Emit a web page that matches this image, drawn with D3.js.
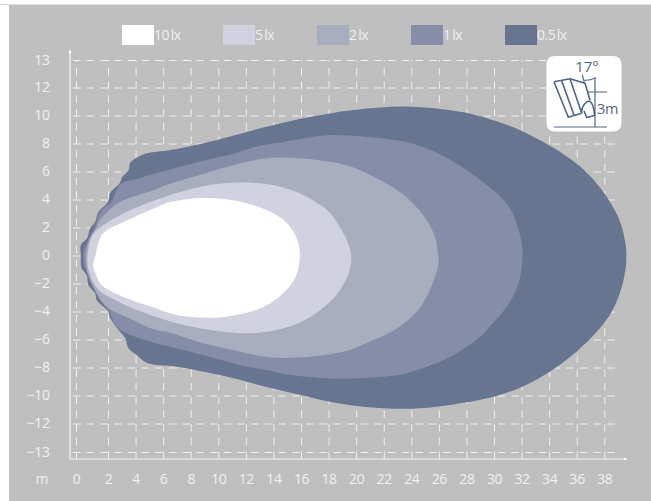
<!DOCTYPE html>
<html>
<head>
<meta charset="utf-8">
<script src="https://cdn.jsdelivr.net/npm/d3@7"></script>
<style>
html,body{margin:0;padding:0;background:#fff}
svg{display:block}
text{font-family:"Open Sans",sans-serif}
</style>
</head>
<body>
<svg id="c" width="651" height="501"></svg>
<script>
const xTicks = [0,2,4,6,8,10,12,14,16,18,20,22,24,26,28,30,32,34,36,38];
const yTicks = [13,12,10,8,6,4,2,0,-2,-4,-6,-8,-10,-12,-13];
const levels = ["0.5 lx","1 lx","2 lx","5 lx","10 lx"];
const legendOrder = ["10 lx","5 lx","2 lx","1 lx","0.5 lx"];
const colors = ["#687591","#868da8","#a8aebe","#d0d3df","#ffffff"];

const lx05 = [[.3,.05],[.3,.75],[.7,1.25],[.88,1.95],[1.2,2.4],[1.4,3.1],[2.02,3.85],[2.15,4.45],[2.87,5.2],[3,5.55],[3.5,6.1],[3.6,6.6],[4.2,7.05],[4.8,7.3],[5.4,7.4],[6.65,7.55],[8.65,7.95],[11.05,8.55],[13.5,9.2],[15.9,9.75],[18.1,10.15],[19.75,10.4],[23.4,10.65],[25.85,10.5],[27.4,10.28],[28.2,10.15],[29,9.95],[30.45,9.5],[31.9,8.95],[33.3,8.25],[34.8,7.4],[36.25,6.35],[37.45,5.15],[38.4,3.85],[39.15,2.4],[39.55,.75],[39.6,-.1],[39.55,-.9],[39.25,-2.3],[38.55,-4],[37.45,-5.45],[36,-6.85],[34.05,-8.3],[32.1,-9.35],[30.45,-9.95],[29,-10.3],[25.85,-10.8],[23.4,-10.95],[20.5,-10.8],[18.1,-10.45],[15.9,-9.95],[13.5,-9.4],[11.05,-8.75],[8.65,-8.25],[6.7,-7.9],[5.4,-7.8],[4.7,-7.6],[4.08,-7.1],[3.47,-6.6],[3.25,-5.9],[2.75,-5.3],[2.15,-4.45],[2.02,-4],[1.3,-3.2],[1.2,-2.7],[.77,-2.1],[.67,-1.4],[.35,-.9]];
const lx1 = [[.45,.05],[.77,1.1],[1.2,2.05],[1.5,3.1],[2.27,3.85],[2.87,5.05],[4.2,5.5],[5.4,5.85],[6.3,6.1],[8.65,6.7],[11.05,7.25],[12.65,7.75],[14.7,8.1],[18.1,8.6],[20.5,8.5],[23.65,8.1],[25.35,7.55],[26.8,6.85],[29,5.4],[30.2,4.45],[31.15,3.4],[31.75,1.95],[32.05,.55],[32.05,-.45],[31.75,-2.1],[31,-3.55],[29.9,-4.85],[29,-5.8],[26.8,-7.25],[24.85,-8.05],[22.95,-8.55],[20.5,-8.75],[18.6,-8.8],[15.4,-8.55],[12.8,-8.05],[12.1,-7.95],[9.4,-7.25],[6.7,-6.55],[5.4,-6.25],[2.75,-5.2],[2.02,-3.9],[1.4,-3.05],[1.2,-2.45],[.88,-1.6],[.56,-.9]];
const lx2 = [[.62,.05],[.88,1.25],[1.3,2.05],[1.4,2.4],[2.75,3.75],[5.4,4.7],[6.3,5.05],[8.65,5.75],[11.05,6.45],[13.5,6.95],[15.9,6.95],[18.1,6.7],[19.3,6.45],[20.5,6],[21.7,5.4],[22.95,4.7],[24.1,3.75],[25.1,2.55],[25.7,1.35],[25.95,.05],[25.95,-.7],[25.5,-2.1],[24.75,-3.55],[23.9,-4.5],[22.55,-5.45],[21,-6.15],[19.55,-6.75],[18.1,-7.05],[15.4,-7.3],[13.5,-7.25],[11.05,-6.75],[8.65,-6.2],[6.3,-5.45],[5.4,-5.3],[3.47,-4.45],[2.02,-3.75],[1.4,-2.9],[.77,-1.4]];
const lx5 = [[.73,.05],[.98,1.35],[1.3,1.8],[2.72,2.8],[5.4,3.95],[8.65,4.9],[11.05,5.2],[13.5,5.1],[15.9,4.45],[17.4,3.6],[18.1,3.05],[18.95,1.8],[19.5,.65],[19.65,-.3],[19.45,-1.3],[19,-2.2],[18.45,-2.95],[17.4,-3.9],[15.9,-4.8],[13.5,-5.45],[11.55,-5.55],[8.65,-5.2],[5.4,-4.35],[2.75,-3.3],[1.4,-2.45],[.88,-1.4],[.73,-.7]];
const lx10 = [[1.23,.05],[1.4,.9],[1.7,1.6],[3.47,2.55],[5.4,3.4],[6.3,3.75],[8.65,4.1],[11.05,3.95],[13.5,3.25],[15,2.3],[15.8,.9],[15.9,-.3],[15.6,-1.55],[14.7,-2.7],[13.25,-3.7],[11.05,-4.3],[9.2,-4.45],[7,-4.25],[5.4,-3.75],[2.75,-2.8],[1.6,-2.1],[1.3,-1.5],[1.08,-.7]];
const contours = [lx05,lx1,lx2,lx5,lx10];

const svg = d3.select("#c");
const x = d3.scaleLinear().domain([0,2,38]).range([76,108,604.3]);
const y = d3.scaleLinear().domain([-13,-12,12,13]).range([452,423.5,87.5,60]);
const color = d3.scaleOrdinal().domain(levels).range(colors);
const ink = "#f1f1f1";

// panel
svg.append("rect").attr("x",9).attr("y",4).attr("width",642).attr("height",497).attr("fill","#bfbfc0");
svg.append("rect").attr("x",0).attr("y",4).attr("width",651).attr("height",1.2).attr("fill","#dcdcdc");

// grid
const gridX = svg.append("g").attr("transform","translate(0,459)")
  .call(d3.axisBottom(x).tickValues(xTicks).tickSize(-399).tickFormat(""));
const gridY = svg.append("g").attr("transform","translate(73,0)")
  .call(d3.axisLeft(y).tickValues(yTicks).tickSize(-546).tickFormat(""));
[gridX,gridY].forEach(g=>{
  g.select(".domain").remove();
  g.selectAll("line").attr("stroke",ink).attr("stroke-width",1).attr("stroke-dasharray","7.5 6.2");
});

// contours
const line = d3.line().x(d=>x(d[0])).y(d=>y(d[1])).curve(d3.curveCatmullRomClosed.alpha(0.5));
svg.append("g").selectAll("path").data(contours).join("path")
  .attr("d",line).attr("fill",(d,i)=>color(levels[i]));

// axis lines
const axisInk = "#f4f4f4";
svg.append("path").attr("d","M70 50.5V459H626").attr("fill","none").attr("stroke",axisInk).attr("stroke-width",1.2);
svg.append("path").attr("d","M70 49l-1.6 4h3.2zM628 459l-4 -1.6v3.2z").attr("fill",axisInk);

// tick labels
const labX = svg.append("g").attr("transform","translate(0,479)")
  .call(d3.axisBottom(x).tickValues(xTicks).tickSize(0).tickPadding(0));
labX.select(".domain").remove();
labX.selectAll("text").attr("fill",ink).attr("font-size",14).attr("letter-spacing",-0.4).attr("font-family",'"Open Sans",sans-serif').attr("dy","0.36em").attr("y",0);
const labY = svg.append("g").attr("transform","translate(49.5,0)")
  .call(d3.axisLeft(y).tickValues(yTicks).tickSize(0).tickPadding(0));
labY.select(".domain").remove();
labY.selectAll("text").attr("fill",ink).attr("font-size",14).attr("letter-spacing",-0.4).attr("font-family",'"Open Sans",sans-serif');
svg.append("text").attr("x",42).attr("y",479).attr("dy","0.36em").attr("text-anchor","middle")
  .attr("fill",ink).attr("font-size",14).text("m");

// legend
const legendX = d3.scaleOrdinal().domain(legendOrder).range([122,223,317,411,505]);
const leg = svg.append("g").selectAll("g").data(legendOrder).join("g")
  .attr("transform",d=>`translate(${legendX(d)},25)`);
leg.append("rect").attr("width",32).attr("height",20).attr("fill",d=>color(d));
leg.append("text").attr("x",32).attr("y",15).attr("fill",ink).attr("font-size",14).attr("letter-spacing",-0.5).attr("word-spacing",-1.5).text(d=>d);

// inset
const ins = svg.append("g");
const dark = "#4f6486";
ins.append("rect").attr("x",546.5).attr("y",56).attr("width",75).attr("height",75.5).attr("rx",8).attr("fill","#fff");
ins.append("path").attr("fill","none").attr("stroke",dark).attr("stroke-width",1.2)
  .attr("d","M554 127H607M595 77V127M588 92H607M583 80Q589 81 595 78M582.3 75L584.3 82.7");
ins.append("path").attr("fill","none").attr("stroke",dark).attr("stroke-width",1.6).attr("stroke-linejoin","round")
  .attr("d","M554 81.7L570 78.7L585 83.3L590 100M554 81.7L568.3 117.3L581.7 113.3M561.7 80.7L574 115M570 78.7L581.7 113.3M581.7 113.3C581 105 588 100 590 101.5C593 103 594 108 594.7 115.5L586.7 117.5L584 111");
ins.append("text").attr("x",587).attr("y",72).attr("text-anchor","middle").attr("fill",dark).attr("font-size",15).text("17°");
ins.append("text").attr("x",597).attr("y",114).attr("fill",dark).attr("font-size",14.5).attr("letter-spacing",-0.3).text("3m");
</script>
</body>
</html>
